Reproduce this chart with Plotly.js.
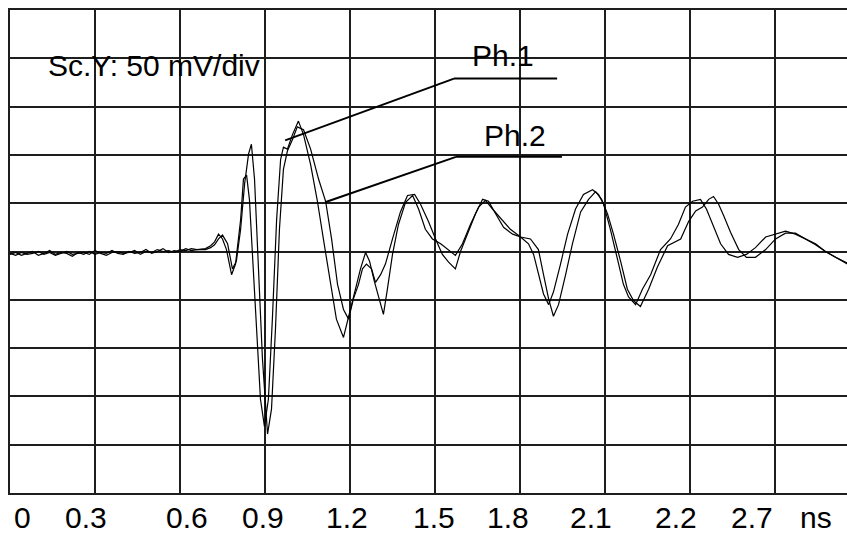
<!DOCTYPE html>
<html>
<head>
<meta charset="utf-8">
<script src="https://cdn.plot.ly/plotly-3.0.1.min.js"></script>
<style>html,body{margin:0;padding:0;background:#fff;}#chart{width:847px;height:533px;}</style>
</head>
<body>
<div id="chart"></div>
<script>
// Time axis (ns) and voltages (mV) (50 mV/div, 0.3 ns/div)
var baseTime = [0.00,0.02,0.04,0.06,0.08,0.10,0.12,0.14,0.16,0.18,0.20,0.22,0.24,0.26,0.28,0.30,0.32,0.34,0.36,0.38,0.40,0.42,0.44,0.46,0.48,0.50,0.52,0.54,0.56,0.58,0.60,0.62,0.64,0.66];

var ph1Time = baseTime.concat([0.690,0.708,0.722,0.736,0.750,0.764,0.782,0.796,0.814,0.824,
  0.835,0.845,0.856,0.870,0.884,0.898,0.912,0.926,0.941,0.955,
  0.965,0.979,0.997,1.018,1.036,1.061,1.085,1.106,1.131,1.152,
  1.177,1.195,1.219,1.237,1.255,1.269,1.286,1.304,1.318,1.332,
  1.350,1.371,1.396,1.421,1.442,1.466,1.491,1.520,1.548,1.572,
  1.597,1.625,1.654,1.678,1.703,1.731,1.766,1.802,1.830,1.848,
  1.865,1.883,1.901,1.918,1.943,1.968,1.996,2.024,2.056,2.077,
  2.095,2.119,2.144,2.165,2.183,2.208,2.232,2.261,2.296,2.331,
  2.359,2.384,2.409,2.437,2.458,2.479,2.508,2.536,2.568,2.599,
  2.631,2.667,2.702,2.737,2.772,2.808,2.843,2.878,2.914,2.956]);
var ph1Volt = [-3,-1,-4,-2,0,-4,-2,1,-3,-1,-2,-5,-1,-3,0,-3,-1,-2,1,-2,-3,0,-2,-1,2,-2,0,3,-1,1,0,3,1,2,
  3,6,10,18,13,2,-24,-13,33,75,
  79,54,-8,-80,-153,-181,-153,-70,33,95,
  108,106,121,135,121,90,52,13,-34,-70,
  -89,-68,-39,-18,-1,-10,-31,-49,-65,-39,
  -3,28,51,58,44,23,13,8,2,-4,
  8,28,46,53,44,35,23,15,8,-3,
  -24,-44,-55,-42,-13,18,44,59,64,59,
  49,23,-8,-34,-47,-55,-39,-24,2,13,
  28,46,52,54,44,28,8,-3,-6,-3,
  4,15,18,21,18,13,8,0,-6,-13];

var ph2Time = baseTime.concat([0.690,0.708,0.722,0.736,0.750,0.768,0.785,0.799,0.814,0.828,
  0.842,0.852,0.863,0.877,0.891,0.909,0.923,0.937,0.951,0.965,
  0.979,0.997,1.014,1.036,1.061,1.089,1.114,1.135,1.156,1.177,
  1.195,1.212,1.230,1.244,1.258,1.276,1.290,1.308,1.325,1.350,
  1.378,1.403,1.428,1.449,1.477,1.502,1.526,1.548,1.572,1.590,
  1.615,1.643,1.668,1.689,1.714,1.742,1.774,1.802,1.837,1.865,
  1.883,1.901,1.918,1.936,1.961,1.985,2.014,2.042,2.067,2.088,
  2.109,2.130,2.155,2.179,2.201,2.225,2.254,2.285,2.321,2.367,
  2.395,2.420,2.444,2.466,2.483,2.501,2.519,2.543,2.572,2.599,
  2.631,2.667,2.702,2.737,2.772,2.808,2.843,2.878,2.914,2.956]);
var ph2Volt = [-2,-4,-1,-3,-2,0,-3,-1,-4,-2,0,-3,-2,-1,-3,1,-2,-4,-1,0,-2,-1,1,-3,0,-1,2,0,1,-1,2,1,3,2,
  2,4,7,13,17,8,-18,-10,23,70,
  101,111,75,-18,-111,-189,-163,-80,23,85,
  104,116,129,126,106,75,52,13,-34,-60,
  -70,-49,-34,-18,-13,-18,-32,-24,-13,13,
  41,58,59,49,31,13,-3,-11,-18,0,
  18,39,54,52,39,25,18,15,13,2,
  -24,-49,-67,-55,-24,8,41,54,62,54,
  39,18,-10,-39,-51,-57,-39,-16,6,13,
  31,42,46,54,57,49,37,20,2,-6,
  -6,2,13,19,19,13,7,0,-6,-12];

// Tick labels as printed under the grid (as in the original)
var tickLabels = ['0','0.3','0.6','0.9','1.2','1.5','1.8','2.1','2.2','2.7','ns'];
var scaleText = 'Sc.Y: 50 mV/div';
var seriesNames = ['Ph.1','Ph.2'];

// ---- layout constants ----
var labelPositions = [0.044,0.268,0.625,0.893,1.191,1.496,1.758,2.050,2.351,2.619,2.845];
var FONT = 'Liberation Sans, Arial, sans-serif';
var GRID = '#1e1e1e';

var traces = [
  {x: ph1Time, y: ph1Volt, name: seriesNames[0], mode: 'lines', line: {color: '#000', width: 1.2}, hoverinfo: 'skip'},
  {x: ph2Time, y: ph2Volt, name: seriesNames[1], mode: 'lines', line: {color: '#000', width: 1.2}, hoverinfo: 'skip'}
];

var annotations = tickLabels.map(function (t, i) {
  return {text: t, x: labelPositions[i], xref: 'x', y: -0.0497, yref: 'paper',
    xanchor: 'center', yanchor: 'middle', showarrow: false,
    font: {family: FONT, size: 30, color: '#000'}};
});
annotations.push({text: scaleText, x: 0.508, y: 193, xref: 'x', yref: 'y', xanchor: 'center', yanchor: 'middle',
  showarrow: false, font: {family: FONT, size: 30, color: '#000'}});
annotations.push({text: seriesNames[0], x: 1.740, y: 203, xref: 'x', yref: 'y', xanchor: 'center', yanchor: 'middle',
  showarrow: false, font: {family: FONT, size: 30, color: '#000'}});
annotations.push({text: seriesNames[1], x: 1.782, y: 120, xref: 'x', yref: 'y', xanchor: 'center', yanchor: 'middle',
  showarrow: false, font: {family: FONT, size: 30, color: '#000'}});

var leader = {color: '#000', width: 2};
var shapes = [
  {type: 'line', xref: 'x', yref: 'y', x0: 0.971, y0: 115, x1: 1.567, y1: 179, line: leader},
  {type: 'line', xref: 'x', yref: 'y', x0: 1.567, y0: 179, x1: 1.931, y1: 179, line: leader},
  {type: 'line', xref: 'x', yref: 'y', x0: 1.112, y0: 51, x1: 1.574, y1: 98, line: leader},
  {type: 'line', xref: 'x', yref: 'y', x0: 1.574, y0: 98, x1: 1.948, y1: 98, line: leader}
];

var layout = {
  width: 847, height: 533,
  margin: {l: 10, r: 0, t: 10, b: 40, pad: 0},
  paper_bgcolor: '#fff', plot_bgcolor: '#fff',
  showlegend: false,
  font: {family: FONT, color: '#000'},
  xaxis: {range: [0, 837 / 85 * 0.3], tick0: 0, dtick: 0.3, showgrid: true, gridcolor: GRID, gridwidth: 2,
    zeroline: false, showticklabels: false, ticks: '', showline: true, linecolor: GRID, linewidth: 2, mirror: true,
    fixedrange: true},
  yaxis: {range: [-250, 250], tick0: 0, dtick: 50, showgrid: true, gridcolor: GRID, gridwidth: 2,
    zeroline: false, showticklabels: false, ticks: '', showline: true, linecolor: GRID, linewidth: 2,
    fixedrange: true},
  annotations: annotations,
  shapes: shapes
};

Plotly.newPlot('chart', traces, layout, {staticPlot: true, displayModeBar: false});
</script>
</body>
</html>
